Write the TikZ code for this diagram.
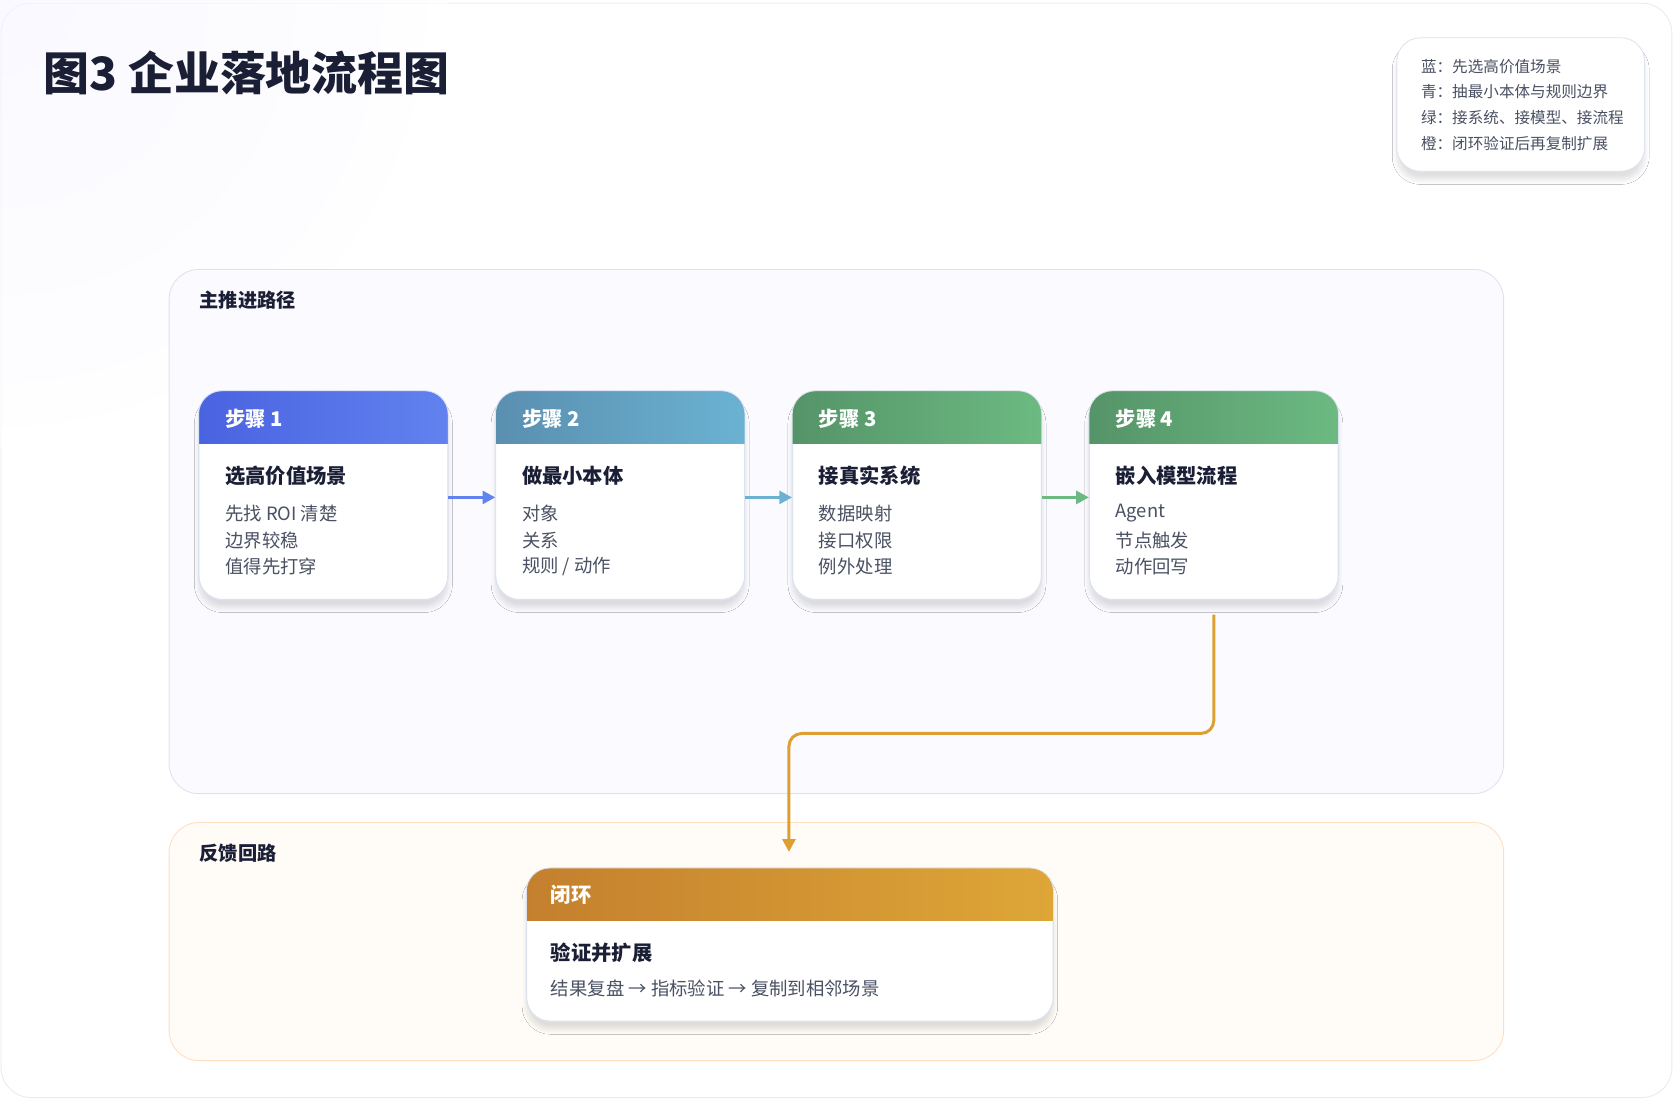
\documentclass[tikz,border=0pt]{standalone}
\usepackage{fontspec}
\setmainfont{Noto Sans CJK SC}
\usetikzlibrary{shadows.blur,arrows.meta}
\definecolor{ink}{HTML}{1A1F36}
\definecolor{gtxt}{HTML}{4A5163}
\definecolor{pborder}{HTML}{DCE3F0}
\definecolor{bA}{HTML}{4A63E0}\definecolor{bB}{HTML}{6182EF}
\definecolor{tA}{HTML}{5A8FB0}\definecolor{tB}{HTML}{6BB2D2}
\definecolor{gA}{HTML}{559468}\definecolor{gB}{HTML}{6CBA82}
\definecolor{oA}{HTML}{C4802E}\definecolor{oB}{HTML}{DEA637}
\definecolor{ocon}{HTML}{DCA032}
\tikzset{
  card/.style={draw=pborder,fill=white,rounded corners=11pt,anchor=north west,inner sep=0pt,
     blur shadow={shadow xshift=0pt,shadow yshift=-4pt,shadow blur steps=8,shadow opacity=12}},
  hdr/.style={anchor=west,text=white,font=\bfseries\fontsize{9.5}{11}\selectfont},
  ttl/.style={anchor=west,text=ink,font=\bfseries\fontsize{9.5}{11}\selectfont},
  ln/.style={anchor=west,text=gtxt,font=\fontsize{8.6}{10}\selectfont},
  lg/.style={anchor=west,text=gtxt,font=\fontsize{7.3}{9}\selectfont},
  plabel/.style={anchor=west,text=ink,font=\bfseries\fontsize{9}{11}\selectfont},
  flow/.style={line width=1.6pt,-{Triangle[length=6pt,width=6pt]}},
}
\newcommand{\mystep}[9]{%
  \node[card,minimum width=116.5pt,minimum height=97.5pt] (#1) at (#2,366) {};
  \begin{scope}
    \clip[rounded corners=11pt] (#1.north west) rectangle (#1.south east);
    \shade[left color=#3,right color=#4] (#1.north west) rectangle ([yshift=-24.5pt]#1.north east);
  \end{scope}
  \draw[pborder,rounded corners=11pt] (#1.north west) rectangle (#1.south east);
  \node[hdr] (#1h) at ([xshift=9pt,yshift=-13pt]#1.north west) {#5};
  \node[ttl] (#1t) at ([xshift=9pt,yshift=-40pt]#1.north west) {#6};
  \node[ln] (#1a) at ([xshift=9pt,yshift=-57.5pt]#1.north west) {#7};
  \node[ln] (#1b) at ([xshift=9pt,yshift=-70pt]#1.north west) {#8};
  \node[ln] (#1c) at ([xshift=9pt,yshift=-82.5pt]#1.north west) {#9};
}
\begin{document}
\begin{tikzpicture}[x=0.5pt,y=-0.5pt]
\useasboundingbox (0,0) rectangle (1568,1030);
\fill[white] (0,0) rectangle (1568,1030);
\fill[left color=white,right color=white,top color=white,bottom color=white] (0,0) rectangle (1568,1030);
\draw[pborder!70,fill=white,rounded corners=14pt] (1,3) rectangle (1566,1028);
\shade[inner color=blue!4,outer color=white,opacity=0.6] (0,0) circle (420);
\node[anchor=west,text=ink,font=\bfseries\fontsize{21.5}{24}\selectfont] (title) at (34,68) {图3 企业落地流程图};
% legend
\node[card,minimum width=116pt,minimum height=62.5pt] (leg) at (1308,35) {};
\node[lg] (l1) at (1324,62) {蓝：先选高价值场景};
\node[lg] (l2) at (1324,86) {青：抽最小本体与规则边界};
\node[lg] (l3) at (1324,110) {绿：接系统、接模型、接流程};
\node[lg] (l4) at (1324,134) {橙：闭环验证后再复制扩展};
% main panel
\node[draw=pborder,fill=blue!1.5,rounded corners=14pt,anchor=north west,minimum width=625pt,minimum height=245.5pt,inner sep=0pt] (main) at (158,252) {};
\node[plabel] (mainl) at (180,281) {主推进路径};
% feedback panel
\node[draw=orange!25,fill=orange!3,rounded corners=14pt,anchor=north west,minimum width=625pt,minimum height=111.5pt,inner sep=0pt] (fb) at (158,770) {};
\node[plabel] (fbl) at (180,799) {反馈回路};
% steps
\mystep{s1}{186}{bA}{bB}{步骤 1}{选高价值场景}{先找 ROI 清楚}{边界较稳}{值得先打穿}
\mystep{s2}{464}{tA}{tB}{步骤 2}{做最小本体}{对象}{关系}{规则 / 动作}
\mystep{s3}{742}{gA}{gB}{步骤 3}{接真实系统}{数据映射}{接口权限}{例外处理}
\mystep{s4}{1020}{gA}{gB}{步骤 4}{嵌入模型流程}{Agent}{节点触发}{动作回写}
\draw[flow,color=bB] ([yshift=-1pt]s1.east) -- ([yshift=-1pt]s2.west);
\draw[flow,color=tB] ([yshift=-1pt]s2.east) -- ([yshift=-1pt]s3.west);
\draw[flow,color=gB] ([yshift=-1pt]s3.east) -- ([yshift=-1pt]s4.west);
% closed loop
\node[card,minimum width=246.5pt,minimum height=71.5pt] (cl) at (493,813) {};
\begin{scope}
  \clip[rounded corners=11pt] (cl.north west) rectangle (cl.south east);
  \shade[left color=oA,right color=oB] (cl.north west) rectangle ([yshift=-24.5pt]cl.north east);
\end{scope}
\draw[pborder,rounded corners=11pt] (cl.north west) rectangle (cl.south east);
\node[hdr] (clh) at ([xshift=8pt,yshift=-12.5pt]cl.north west) {闭环};
\node[ttl] (clt) at ([xshift=8pt,yshift=-39.5pt]cl.north west) {验证并扩展};
\node[ln] (cla) at ([xshift=8pt,yshift=-56.5pt]cl.north west) {结果复盘 → 指标验证 → 复制到相邻场景};
\coordinate (ce) at (739,798);
\draw[flow,color=ocon,line width=1.4pt,rounded corners=6pt] ([yshift=-7pt]s4.south) |- (ce |- 0,687) -- (ce);
\end{tikzpicture}
\end{document}
